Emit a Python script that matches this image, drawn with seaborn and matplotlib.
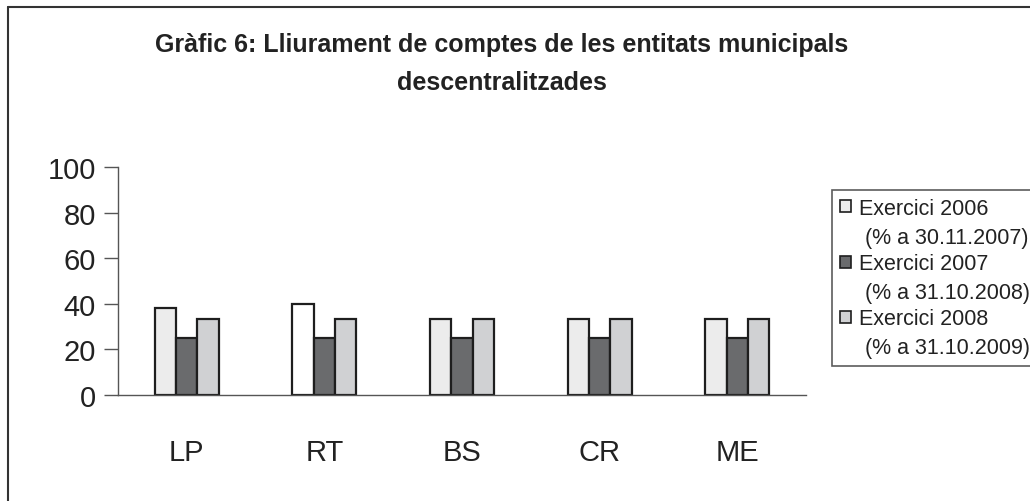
import matplotlib
matplotlib.use("Agg")
import matplotlib.pyplot as plt
import seaborn as sns
import pandas as pd
from matplotlib.patches import Rectangle
from matplotlib.legend_handler import HandlerPatch
from matplotlib.lines import Line2D

# Dades
entitats = ['LP', 'RT', 'BS', 'CR', 'ME']
exercicis = ['Exercici 2006\n (% a 30.11.2007)',
             'Exercici 2007\n (% a 31.10.2008)',
             'Exercici 2008\n (% a 31.10.2009)']
valors_2006 = [38, 40, 33.3, 33.3, 33.3]
valors_2007 = [25, 25, 25, 25, 25]
valors_2008 = [33.3, 33.3, 33.3, 33.3, 33.3]
y_ticks = [0, 20, 40, 60, 80, 100]

df = pd.DataFrame({
    'Entitat': entitats * 3,
    'Exercici': [exercicis[0]] * 5 + [exercicis[1]] * 5 + [exercicis[2]] * 5,
    'Valor': valors_2006 + valors_2007 + valors_2008,
})

sns.set_style('white')
plt.rcParams['font.family'] = ['Liberation Sans', 'DejaVu Sans']

colors = ['#ececec', '#6a6b6d', '#d0d1d3']
text_col = '#222222'

fig = plt.figure(figsize=(10.3, 5.02), dpi=100)
ax = fig.add_axes([118 / 1030, 1 - 396 / 502, (806 - 118) / 1030, (396 - 168) / 502])

sns.barplot(data=df, x='Entitat', y='Valor', hue='Exercici', palette=colors,
            width=0.465, gap=0, edgecolor='#1e1e1e', linewidth=1.6, ax=ax,
            legend=False)

# la barra de RT 2006 es blanca a l'original
ax.containers[0].patches[1].set_facecolor('white')

ax.set_xlim(-0.5, 4.5)
ax.set_ylim(0, 100)
ax.set_yticks(y_ticks)
ax.set_yticklabels([str(v) for v in y_ticks], fontsize=21, color=text_col)
ax.set_xticks(range(len(entitats)))
ax.set_xticklabels(entitats, fontsize=21, color=text_col)
ax.set_xticks([i - 0.5 for i in range(len(entitats) + 1)], minor=True)
ax.tick_params(axis='x', which='major', length=0, pad=31)
ax.tick_params(axis='x', which='minor', length=10, width=1, color='#555555', direction='out')
ax.tick_params(axis='y', length=10, width=1, color='#555555', direction='out', pad=6, left=True)
ax.set_xlabel('')
ax.set_ylabel('')
for s in ['top', 'right']:
    ax.spines[s].set_visible(False)
for s in ['left', 'bottom']:
    ax.spines[s].set_color('#555555')
    ax.spines[s].set_linewidth(1)

# títol
fig.text(0.487, 1 - 64 / 502,
         'Gràfic 6: Lliurament de comptes de les entitats municipals\ndescentralitzades',
         ha='center', va='center', fontsize=18, fontweight='bold', color=text_col,
         linespacing=1.7)

# marc de la figura (només esquerra i dalt)
fig.add_artist(Line2D([8 / 1030, 8 / 1030], [0, 1 - 8 / 502], transform=fig.transFigure,
                      color='#333333', linewidth=1.5))
fig.add_artist(Line2D([8 / 1030, 1], [1 - 8 / 502, 1 - 8 / 502], transform=fig.transFigure,
                      color='#333333', linewidth=1.5))


def caixa(legend, orig_handle, xdescent, ydescent, width, height, fontsize):
    s = 8.5
    return Rectangle((-xdescent, -ydescent + 0.85 * fontsize), s, s)


handles = [Rectangle((0, 0), 1, 1, facecolor=c, edgecolor='#1e1e1e', linewidth=1.2)
           for c in colors]
leg = fig.legend(handles, exercicis, loc='upper left',
                 bbox_to_anchor=(832 / 1030, 1 - 191 / 502),
                 fontsize=15.5, frameon=True, fancybox=False, edgecolor='#333333',
                 handlelength=0.55, handletextpad=0.35, labelspacing=0.25,
                 borderpad=0.35, borderaxespad=0,
                 handler_map={Rectangle: HandlerPatch(patch_func=caixa)})
leg.get_frame().set_linewidth(1.2)
for t in leg.get_texts():
    t.set_color(text_col)
    t.set_linespacing(1.5)

fig.savefig('out.png', dpi=100, facecolor='white')
